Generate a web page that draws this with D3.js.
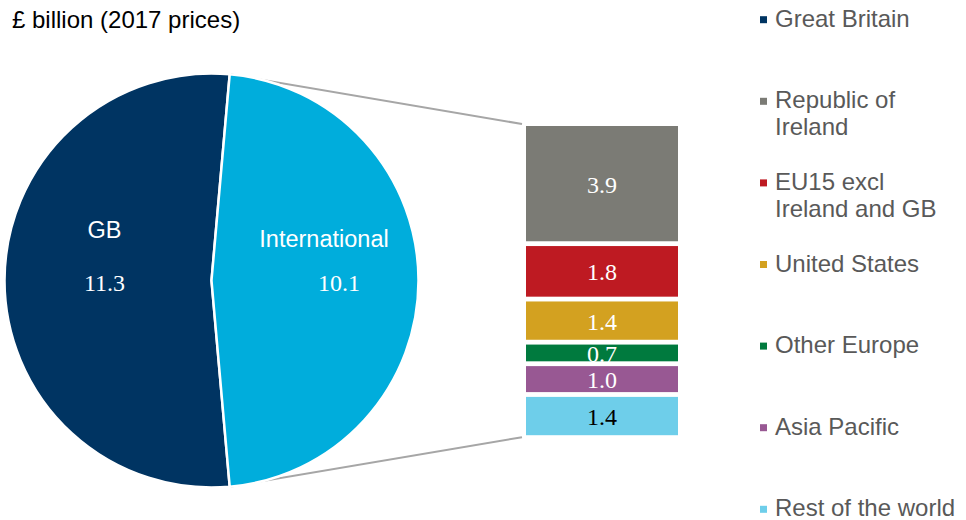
<!DOCTYPE html>
<html>
<head>
<meta charset="utf-8">
<script src="https://cdn.jsdelivr.net/npm/d3@7"></script>
<style>
  html, body { margin: 0; padding: 0; background: #fff; }
  svg { display: block; }
</style>
</head>
<body>
<svg id="chart" width="966" height="520"></svg>
<script>
// Top-level split
const pieNames = ["GB", "International"];
const pieValues = [11.3, 10.1];
const pieColors = ["#003462", "#00ADDC"];

// Breakdown of the international share
const barNames = ["Republic of Ireland", "EU15 excl Ireland and GB", "United States", "Other Europe", "Asia Pacific", "Rest of the world"];
const barValues = [3.9, 1.8, 1.4, 0.7, 1.0, 1.4];
const barColors = ["#7B7B75", "#BE1A22", "#D3A120", "#007A3E", "#985893", "#6ECEEA"];
const barLabelColors = ["#fff", "#fff", "#fff", "#fff", "#fff", "#000"];

// Legend
const legendLines = [["Great Britain"], ["Republic of", "Ireland"], ["EU15 excl", "Ireland and GB"], ["United States"], ["Other Europe"], ["Asia Pacific"], ["Rest of the world"]];
const legendColors = ["#003462", "#7B7B75", "#BE1A22", "#D3A120", "#007A3E", "#985893", "#6ECEEA"];

const svg = d3.select("#chart");
const sans = "'Liberation Sans', Arial, sans-serif";
const serif = "'Liberation Serif', 'Times New Roman', serif";

svg.append("text")
  .attr("x", 12).attr("y", 28)
  .attr("font-family", sans).attr("font-size", 24)
  .attr("fill", "#000")
  .text("£ billion (2017 prices)");

// Pie
const cx = 211.5, cy = 280.5, r = 207;
const total = d3.sum(pieValues);
const intlAngle = pieValues[1] / total * 2 * Math.PI;
const intlStart = Math.PI / 2 - intlAngle / 2;

const pie = d3.pie()
  .sort(null)
  .startAngle(intlStart + intlAngle - 2 * Math.PI)
  .endAngle(intlStart + intlAngle);
const arcs = pie(pieValues);
const arc = d3.arc().innerRadius(0).outerRadius(r);

// Bar geometry
const barX = 526, barW = 152, barTop = 126, gap = 4.8;
const y = d3.scaleLinear().domain([0, d3.sum(barValues)]).range([barTop, barTop + 314]);
const cum = [0];
barValues.forEach((v, i) => cum.push(cum[i] + v));

// Connector lines from the international slice to the bar
const pt = a => [cx + r * Math.sin(a), cy - r * Math.cos(a)];
const intl = arcs[1];
const p0 = pt(intl.startAngle), p1 = pt(intl.endAngle);
svg.append("line")
  .attr("x1", p0[0]).attr("y1", p0[1])
  .attr("x2", barX - 4).attr("y2", y(0) - 2)
  .attr("stroke", "#A6A6A6").attr("stroke-width", 2);
svg.append("line")
  .attr("x1", p1[0]).attr("y1", p1[1])
  .attr("x2", barX - 4).attr("y2", y(cum[cum.length - 1]) - gap + 2)
  .attr("stroke", "#A6A6A6").attr("stroke-width", 2);

const pieG = svg.append("g").attr("transform", `translate(${cx},${cy})`);
pieG.selectAll("path")
  .data(arcs)
  .join("path")
  .attr("d", arc)
  .attr("fill", (d, i) => pieColors[i])
  .attr("stroke", "#fff")
  .attr("stroke-width", 2.5)
  .attr("stroke-linejoin", "miter");

// Pie labels
const pieLabelPos = [[104.5, 238, 104.5, 290.5], [324, 246.5, 339, 290.5]];
pieNames.forEach((n, i) => {
  const [nx, ny, vx, vy] = pieLabelPos[i];
  svg.append("text")
    .attr("x", nx).attr("y", ny)
    .attr("text-anchor", "middle")
    .attr("font-family", sans).attr("font-size", 23.5)
    .attr("fill", "#fff").text(n);
  svg.append("text")
    .attr("x", vx).attr("y", vy)
    .attr("text-anchor", "middle")
    .attr("font-family", serif).attr("font-size", 24)
    .attr("fill", "#fff").text(pieValues[i].toFixed(1));
});

// Stacked bar, drawn segment by segment so each covers the label above it
const barG = svg.append("g");
barValues.forEach((v, i) => {
  const y0 = y(cum[i]), y1 = y(cum[i + 1]) - gap;
  barG.append("rect")
    .attr("x", barX).attr("y", y0)
    .attr("width", barW).attr("height", y1 - y0)
    .attr("fill", barColors[i]);
  barG.append("text")
    .attr("x", barX + barW / 2)
    .attr("y", (y0 + y1) / 2 + 9)
    .attr("text-anchor", "middle")
    .attr("font-family", serif).attr("font-size", 24)
    .attr("fill", barLabelColors[i])
    .text(v.toFixed(1));
});

// Legend
const legendG = svg.append("g");
legendLines.forEach((lines, i) => {
  const base = 26.7 + i * 81.6;
  legendG.append("rect")
    .attr("x", 760).attr("y", base - 10.5)
    .attr("width", 7).attr("height", 7)
    .attr("fill", legendColors[i]);
  lines.forEach((t, j) => {
    legendG.append("text")
      .attr("x", 775).attr("y", base + j * 26.7)
      .attr("font-family", sans).attr("font-size", 24)
      .attr("fill", "#595959")
      .text(t);
  });
});
</script>
</body>
</html>
